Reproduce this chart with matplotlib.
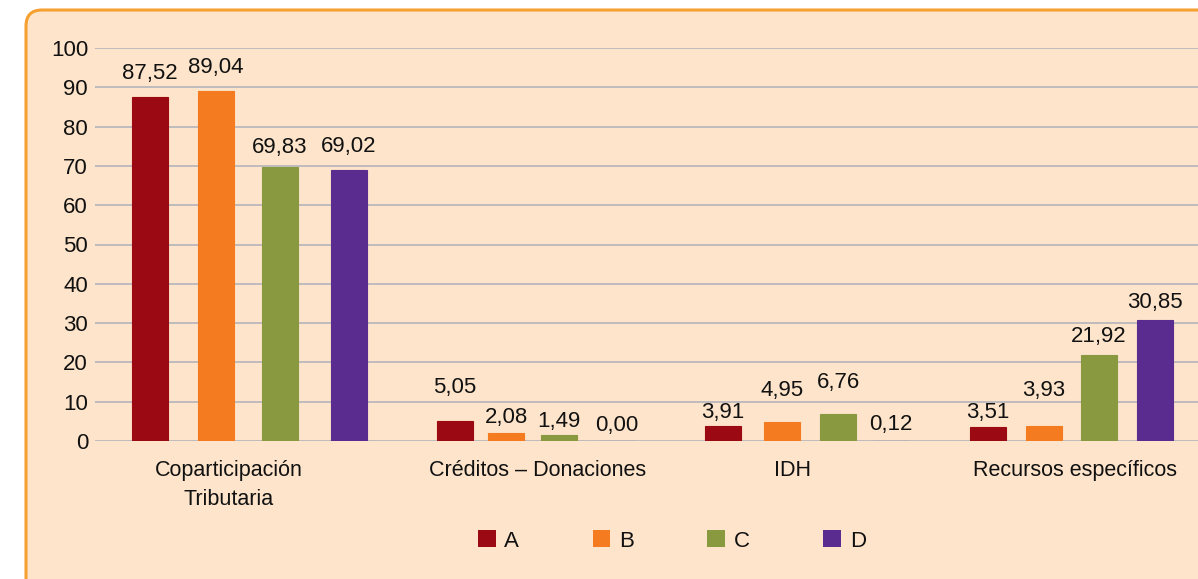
import matplotlib.pyplot as plt
import matplotlib.transforms as mtransforms
from matplotlib.patches import FancyBboxPatch, Patch

# data
categories = ["Coparticipación\nTributaria", "Créditos – Donaciones", "IDH", "Recursos específicos"]
series = ["A", "B", "C", "D"]
vals_a = [87.52, 5.05, 3.91, 3.51]
vals_b = [89.04, 2.08, 4.95, 3.93]
vals_c = [69.83, 1.49, 6.76, 21.92]
vals_d = [69.02, 0.00, 0.12, 30.85]
colors = ["#9b0a12", "#f47b20", "#88993f", "#5b2c8f"]

# layout (pixel-based x axis, bars are not evenly spaced in the original)
bar_x = [[150, 455, 723, 988],
         [216, 506, 782, 1044],
         [280, 559, 838, 1099],
         [349, 617, 891, 1155]]
label_gap = [[13, 23, 3, 4],
             [13, 5, 21, 25],
             [9, 3, 21, 8],
             [13, 5, 6, 7]]
cat_x = [229, 538, 792, 1075]

plt.rcParams['font.family'] = ['Liberation Sans', 'DejaVu Sans']
W, H = 1198, 579
fig = plt.figure(figsize=(W / 100, H / 100), dpi=100)
fig.patch.set_facecolor("white")

# rounded orange frame
frame = FancyBboxPatch((26, -40), 1250, 579 - 10 + 40,
                       boxstyle="round,pad=0,rounding_size=16",
                       transform=mtransforms.IdentityTransform(),
                       facecolor="#fde4ca", edgecolor="#f5a030", linewidth=2.2,
                       zorder=-5)
fig.patches.append(frame)

ax = fig.add_axes([95 / W, 1 - 441 / H, 1 - 95 / W, (441 - 48) / H])
ax.set_zorder(2)
ax.set_facecolor("none")
ax.set_xlim(95, W)
ax.set_ylim(0, 100)

all_vals = [vals_a, vals_b, vals_c, vals_d]
for s in range(4):
    ax.bar(bar_x[s], all_vals[s], width=36, color=colors[s],
           edgecolor=colors[s], linewidth=0.8, zorder=3)
    for i, v in enumerate(all_vals[s]):
        ax.annotate(f"{v:.2f}".replace(".", ","), (bar_x[s][i], v),
                    xytext=(0, label_gap[s][i] * 0.72), textcoords="offset points",
                    ha="center", va="bottom", fontsize=16, color="#111111")

ax.set_yticks(range(0, 101, 10))
ax.yaxis.grid(True, color="#b4b4bc", linewidth=1.2, zorder=0)
ax.set_xticks(cat_x)
ax.set_xticklabels(categories, fontsize=15.5, linespacing=1.45, color="#111111")
ax.tick_params(axis="x", length=0, pad=14)
ax.tick_params(axis="y", length=0, labelsize=16, pad=5, labelcolor="#111111")
for sp in ax.spines.values():
    sp.set_visible(False)

handles = [Patch(facecolor=c, edgecolor="none") for c in colors]
leg = fig.legend(handles, series, loc="center", bbox_to_anchor=(672 / W, 1 - 541 / H),
                 ncol=4, frameon=False, fontsize=16, handlelength=0.8, handleheight=0.8,
                 handletextpad=0.4, columnspacing=3.3)
for t in leg.get_texts():
    t.set_color("#111111")
leg.set_zorder(3)

fig.savefig("out.png", dpi=100)
